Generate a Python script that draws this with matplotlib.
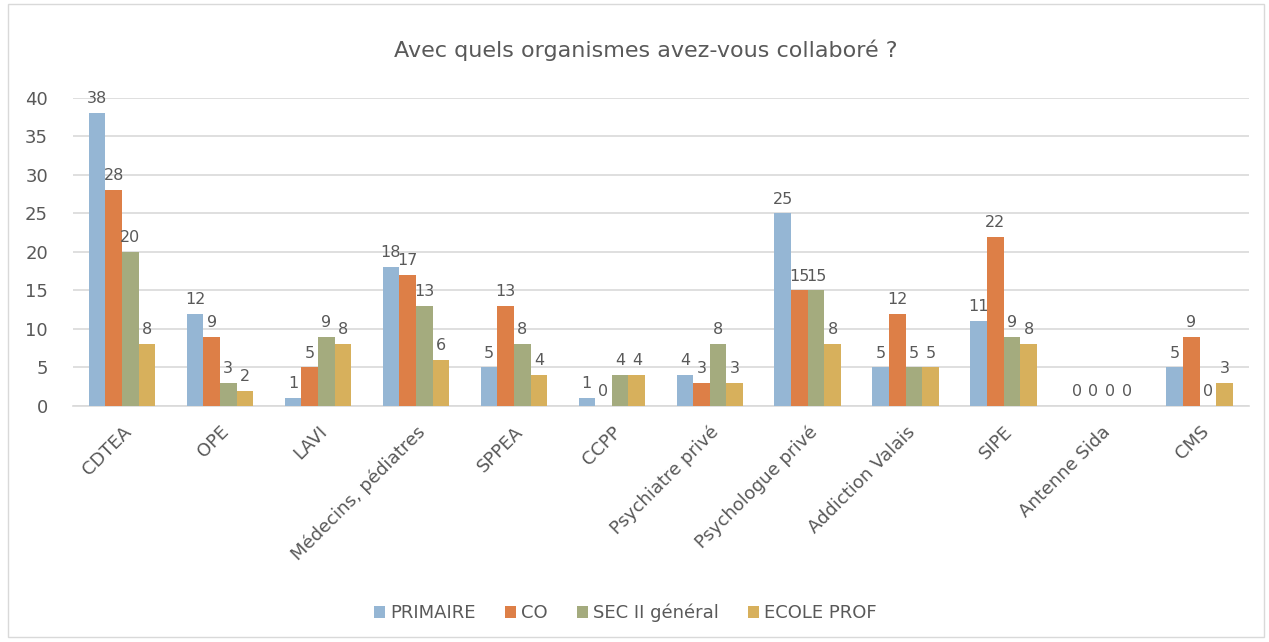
import numpy as np
import matplotlib.pyplot as plt
from matplotlib.patches import Rectangle

categories = ["CDTEA", "OPE", "LAVI", "Médecins, pédiatres", "SPPEA", "CCPP",
              "Psychiatre privé", "Psychologue privé", "Addiction Valais", "SIPE",
              "Antenne Sida", "CMS"]
primaire = [38, 12, 1, 18, 5, 1, 4, 25, 5, 11, 0, 5]
co = [28, 9, 5, 17, 13, 0, 3, 15, 12, 22, 0, 9]
sec2 = [20, 3, 9, 13, 8, 4, 8, 15, 5, 9, 0, 0]
ecole_prof = [8, 2, 8, 6, 4, 4, 3, 8, 5, 8, 0, 3]

series_names = ["PRIMAIRE", "CO", "SEC II général", "ECOLE PROF"]
colors = ["#95B6D4", "#DD7F47", "#A4AB7E", "#D7B05C"]
txt = "#595959"

plt.rcParams['font.family'] = ['DejaVu Sans']

fig = plt.figure(figsize=(12.69, 6.42), dpi=100)
ax = fig.add_axes([0.0575, 0.3676, 0.9265, 0.4798])

# border of chart area
fig.patches.append(Rectangle((0.006, 0.008), 0.99, 0.985, transform=fig.transFigure,
                             fill=False, edgecolor="#D9D9D9", linewidth=1))

x = np.arange(len(categories))
w = 0.17
for i, (vals, name, c) in enumerate(zip([primaire, co, sec2, ecole_prof], series_names, colors)):
    pos = x + (i - 1.5) * w
    ax.bar(pos, vals, w, color=c, label=name, zorder=3)
    for p, v in zip(pos, vals):
        ax.annotate(str(v), (p, v), xytext=(0, 5), textcoords="offset points",
                    ha="center", va="bottom", fontsize=11.5, color=txt)

ax.set_xlim(-0.5, len(categories) - 0.5)
ax.set_ylim(0, 40)
ax.set_yticks(range(0, 41, 5))
ax.yaxis.grid(True, color="#D9D9D9", linewidth=1.2, zorder=0)
ax.set_axisbelow(True)
for s in ["top", "right", "left"]:
    ax.spines[s].set_visible(False)
ax.spines["bottom"].set_color("#D9D9D9")
ax.spines["bottom"].set_linewidth(1.2)
ax.tick_params(axis="both", length=0, labelsize=13, colors=txt)
ax.tick_params(axis="y", pad=18)
ax.set_xticks(x)
ax.set_xticklabels(categories, rotation=45, ha="right", rotation_mode="anchor")
ax.tick_params(axis="x", pad=12)

fig.text(0.509, 0.922, "Avec quels organismes avez-vous collaboré ?", ha="center",
         va="center", fontsize=16, color=txt)

fig.legend(loc="center", bbox_to_anchor=(0.493, 0.045), ncol=4, frameon=False,
           fontsize=13, labelcolor=txt, handlelength=0.6, handleheight=0.6,
           handletextpad=0.3, columnspacing=1.6)

fig.savefig("out.png", dpi=100)
